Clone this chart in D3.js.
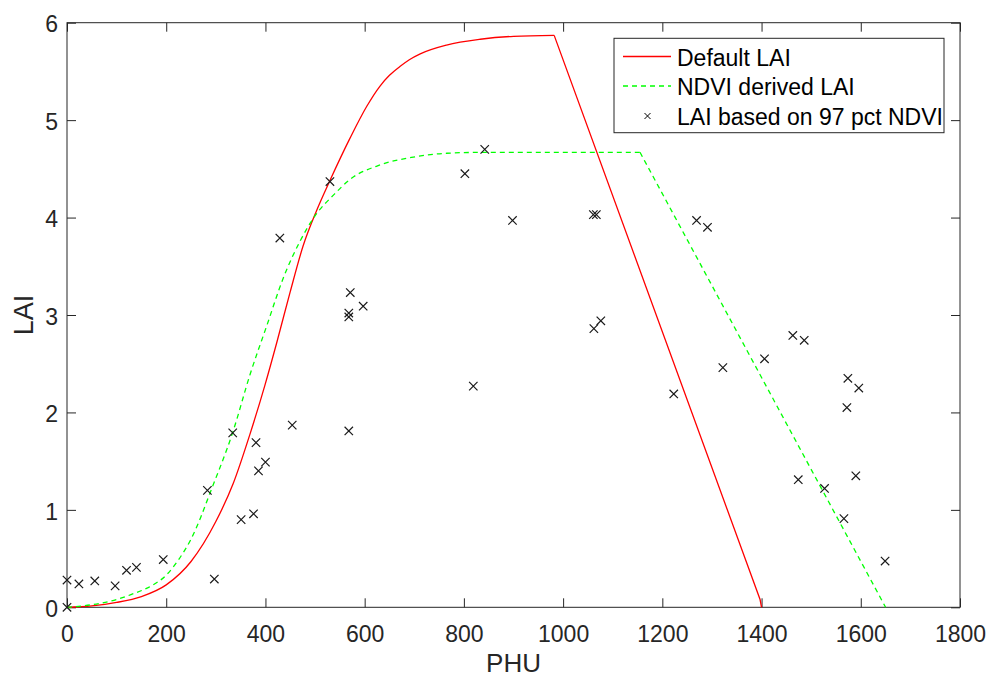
<!DOCTYPE html>
<html>
<head>
<meta charset="utf-8">
<script src="https://cdn.jsdelivr.net/npm/d3@7"></script>
<style>
  body { margin: 0; background: #fff; }
  svg { display: block; font-family: "Liberation Sans", Arial, Helvetica, sans-serif; }
  .axis text { fill: #262626; font-size: 23px; }
  .axis line { stroke: #262626; }
</style>
</head>
<body>
<svg id="chart" width="990" height="677"></svg>
<script>
// default LAI curve
var defaultPhu = [0, 50, 100, 150, 200, 250, 300, 335, 369, 399, 423, 450, 476, 503, 530, 570, 604, 631, 650, 671, 690, 712, 765, 833, 900, 982, 1397, 1400];
var defaultLai = [0, 0.015, 0.05, 0.11, 0.23, 0.47, 0.88, 1.27, 1.78, 2.28, 2.72, 3.24, 3.71, 4.07, 4.38, 4.81, 5.14, 5.35, 5.46, 5.55, 5.62, 5.68, 5.77, 5.83, 5.86, 5.87, 0.08, 0];

// NDVI derived LAI curve
var ndviPhu = [0, 66, 100, 134, 170, 200, 225, 250, 270, 285, 335, 369, 402, 436, 470, 503, 537, 570, 631, 698, 765, 846, 1155, 1650];
var ndviLai = [0, 0.04, 0.08, 0.14, 0.22, 0.33, 0.49, 0.70, 0.93, 1.13, 1.81, 2.39, 2.88, 3.38, 3.76, 4.04, 4.23, 4.39, 4.54, 4.62, 4.66, 4.67, 4.67, 0];

// LAI based on 97 pct NDVI (points)
var obsPhu = [0, 0, 24, 56, 97, 120, 140, 194, 283, 297, 334, 351, 376, 381, 386, 400, 454, 429, 530, 571, 568, 568, 597, 568,
  802, 842, 898, 819, 1061, 1067, 1076, 1062, 1269, 1291, 1223, 1322, 1406, 1463, 1486, 1574, 1596, 1572, 1474, 1527, 1590, 1566, 1649];
var obsLai = [0.28, 0, 0.24, 0.27, 0.22, 0.38, 0.41, 0.49, 1.20, 0.29, 1.79, 0.90, 0.96, 1.69, 1.40, 1.49, 1.87, 3.79, 4.37, 3.23, 3.02, 2.98, 3.09, 1.81,
  4.45, 4.70, 3.97, 2.27, 4.03, 4.03, 2.94, 2.86, 3.97, 3.90, 2.19, 2.46, 2.55, 2.79, 2.74, 2.35, 2.25, 2.05, 1.31, 1.22, 1.35, 0.91, 0.475];

var xTicks = [0, 200, 400, 600, 800, 1000, 1200, 1400, 1600, 1800];
var yTicks = [0, 1, 2, 3, 4, 5, 6];
var legendLabels = ["Default LAI", "NDVI derived LAI", "LAI based on 97 pct NDVI"];

var plotLeft = 67, plotRight = 960, plotTop = 22.7, plotBottom = 607.3;

var svg = d3.select("#chart");

var x = d3.scaleLinear().domain([0, 1800]).range([plotLeft, plotRight]);
var y = d3.scaleLinear().domain([0, 6]).range([plotBottom, plotTop]);

// axes, ticks pointing inward on all four sides
svg.append("g").attr("class", "axis")
  .attr("transform", "translate(0," + plotBottom + ")")
  .call(d3.axisBottom(x).tickValues(xTicks).tickFormat(d3.format("d")).tickSizeInner(-9).tickSizeOuter(0).tickPadding(18));
svg.append("g").attr("class", "axis")
  .attr("transform", "translate(0," + plotTop + ")")
  .call(d3.axisTop(x).tickValues(xTicks).tickSizeInner(-9).tickSizeOuter(0).tickFormat(""));
svg.append("g").attr("class", "axis y-left")
  .attr("transform", "translate(" + plotLeft + ",0)")
  .call(d3.axisLeft(y).tickValues(yTicks).tickFormat(d3.format("d")).tickSizeInner(-9).tickSizeOuter(0).tickPadding(9));
svg.append("g").attr("class", "axis")
  .attr("transform", "translate(" + plotRight + ",0)")
  .call(d3.axisRight(y).tickValues(yTicks).tickSizeInner(-9).tickSizeOuter(0).tickFormat(""));

svg.selectAll(".axis .domain").remove();
svg.selectAll(".y-left text").attr("dy", "0.4em");

svg.append("rect")
  .attr("x", plotLeft).attr("y", plotTop)
  .attr("width", plotRight - plotLeft).attr("height", plotBottom - plotTop)
  .attr("fill", "none").attr("stroke", "#262626").attr("stroke-width", 1);

// draw a curve: smooth rising part, straight falling part
function drawCurve(phu, lai, color, dash) {
  var pts = phu.map(function(p, i) { return [p, lai[i]]; });
  var maxV = d3.max(lai);
  var split = lai.lastIndexOf(maxV);
  var smooth = d3.line().x(function(d) { return x(d[0]); }).y(function(d) { return y(d[1]); }).curve(d3.curveMonotoneX);
  var straight = d3.line().x(function(d) { return x(d[0]); }).y(function(d) { return y(d[1]); });
  [[pts.slice(0, split + 1), smooth], [pts.slice(split), straight]].forEach(function(part) {
    svg.append("path")
      .datum(part[0])
      .attr("fill", "none")
      .attr("stroke", color)
      .attr("stroke-width", 1.3)
      .attr("stroke-dasharray", dash)
      .attr("d", part[1]);
  });
}

drawCurve(defaultPhu, defaultLai, "#ff0000", null);
drawCurve(ndviPhu, ndviLai, "#00ff00", "5,4");

function cross(s) {
  return "M" + (-s) + "," + (-s) + "L" + s + "," + s + "M" + (-s) + "," + s + "L" + s + "," + (-s);
}

svg.append("g").selectAll("path")
  .data(obsPhu)
  .enter()
  .append("path")
  .attr("transform", function(d, i) { return "translate(" + x(d) + "," + y(obsLai[i]) + ")"; })
  .attr("d", cross(4.2))
  .attr("fill", "none")
  .attr("stroke", "#1a1a1a")
  .attr("stroke-width", 1.2);

// axis labels
svg.append("text")
  .attr("x", (plotLeft + plotRight) / 2).attr("y", 672)
  .attr("text-anchor", "middle")
  .attr("font-size", 26).attr("fill", "#262626")
  .text("PHU");
svg.append("text")
  .attr("transform", "translate(33,315) rotate(-90)")
  .attr("text-anchor", "middle")
  .attr("font-size", 27).attr("fill", "#262626")
  .text("LAI");

// legend
var lg = svg.append("g");
lg.append("rect")
  .attr("x", 614).attr("y", 38.3)
  .attr("width", 330).attr("height", 94.4)
  .attr("fill", "#fff").attr("stroke", "#262626").attr("stroke-width", 1);

legendLabels.forEach(function(label, i) {
  var base = 65.5 + i * 29.5;
  if (i === 0) {
    lg.append("line").attr("x1", 623).attr("x2", 671).attr("y1", base - 9).attr("y2", base - 9)
      .attr("stroke", "#ff0000").attr("stroke-width", 1.3);
  } else if (i === 1) {
    lg.append("line").attr("x1", 623).attr("x2", 671).attr("y1", base - 9).attr("y2", base - 9)
      .attr("stroke", "#00ff00").attr("stroke-width", 1.3).attr("stroke-dasharray", "5,4");
  } else {
    lg.append("path").attr("transform", "translate(647.5," + (base - 8.5) + ")")
      .attr("d", cross(3)).attr("stroke", "#000").attr("stroke-width", 1).attr("fill", "none");
  }
  lg.append("text")
    .attr("x", 677).attr("y", base)
    .attr("font-size", 23).attr("fill", "#000")
    .text(label);
});
</script>
</body>
</html>
